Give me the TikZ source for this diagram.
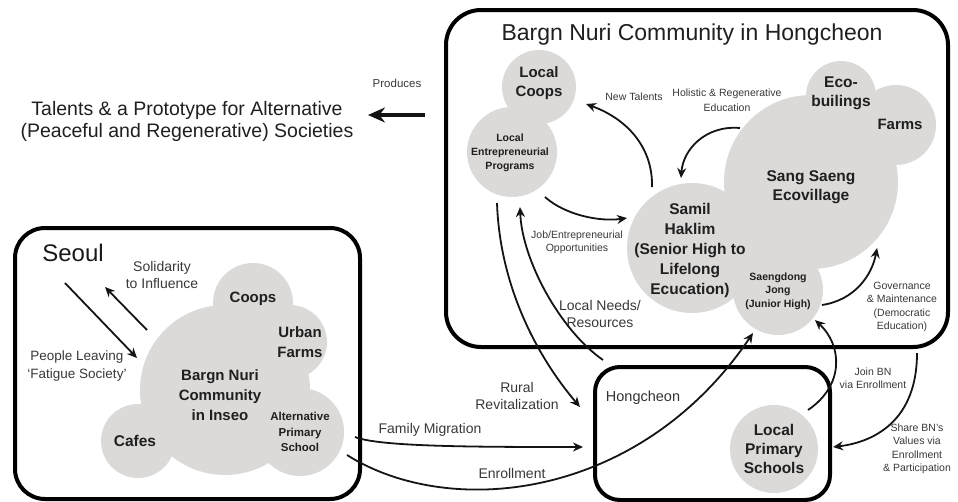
\documentclass[tikz,border=0pt]{standalone}
\usepackage{fontspec}
\setmainfont{Liberation Sans}
\usetikzlibrary{arrows.meta}
\definecolor{bubble}{RGB}{220,218,216}
\newcommand\fsz[2]{\fontsize{#1}{#2}\selectfont}
\tikzset{
  bub/.style={circle, fill=bubble, inner sep=0pt, minimum size=#1},
  framebox/.style={draw=black, line width=4pt, rounded corners=#1, inner sep=0pt, anchor=north west},
  ctxt/.style 2 args={align=center, text=black!88, inner sep=0pt, font=\bfseries\fsz{#1}{#2}},
  atxt/.style 2 args={align=center, text=black!78, inner sep=0pt, font=\fsz{#1}{#2}},
  conn/.style={draw=black!92, line width=1.8pt, -{Stealth[length=10pt,width=9pt]}},
}
\begin{document}
\begin{tikzpicture}[x=1pt,y=-1pt]
\useasboundingbox (0,0) rectangle (958,501);

% ---------- frames ----------
\node[framebox=35pt, minimum width=502pt, minimum height=337pt] (bigbox) at (444,8) {};
\node[framebox=30pt, minimum width=345pt, minimum height=271pt] (seoulbox) at (13,226) {};
\node[framebox=25pt, minimum width=235pt, minimum height=133pt] (hcbox) at (593,365) {};

% ---------- bubbles: Hongcheon community ----------
\node[bub=74pt]  (lcoops) at (539,87) {};
\node[bub=90pt]  (lep)    at (512,152) {};
\node[bub=174pt] (sang)   at (811,182) {};
\node[bub=70pt]  (eco)    at (841,96) {};
\node[bub=80pt]  (farms)  at (896,125) {};
\node[bub=130pt] (samil)  at (692,248) {};
\node[bub=90pt]  (saeng)  at (778,290) {};
\node[bub=88pt]  (lps)    at (774,449) {};

% ---------- bubbles: Seoul ----------
\node[bub=170pt] (inseo) at (225,390) {};
\node[bub=80pt]  (coops) at (253,303) {};
\node[bub=74pt]  (urban) at (290,342) {};
\node[bub=88pt]  (alt)   at (300,432) {};
\node[bub=74pt]  (cafes) at (138,441) {};

% ---------- bubble texts ----------
\node[ctxt={15}{19}] (lcoops-t) at (539,83) {Local\\Coops};
\node[ctxt={10.5}{14}] (lep-t) at (510,153) {Local\\Entrepreneurial\\Programs};
\node[ctxt={15.5}{19}] (sang-t) at (811,187) {Sang Saeng\\Ecovillage};
\node[ctxt={15.5}{19}] (eco-t) at (841,93) {Eco-\\builings};
\node[ctxt={15}{19}] (farms-t) at (900,124) {Farms};
\node[ctxt={15.5}{20}] (samil-t) at (690,250) {Samil\\Haklim\\(Senior High to\\Lifelong\\Ecucation)};
\node[ctxt={10.5}{13.5}] (saeng-t) at (778,291) {Saengdong\\Jong\\(Junior High)};
\node[ctxt={15.5}{19}] (lps-t) at (774,449) {Local\\Primary\\Schools};

\node[ctxt={15}{20}] (inseo-t) at (220,395) {Bargn Nuri\\Community\\in Inseo};
\node[ctxt={15}{19}] (coops-t) at (253,299) {Coops};
\node[ctxt={15}{20}] (urban-t) at (300,342) {Urban\\Farms};
\node[ctxt={11.5}{15.5}] (alt-t) at (300,432) {Alternative\\Primary\\School};
\node[ctxt={15.5}{19}] (cafes-t) at (135,441) {Cafes};

% ---------- titles ----------
\node[inner sep=0pt, font=\fsz{23}{27}, text=black!88] (title) at (692,35) {Bargn Nuri Community in Hongcheon};
\node[inner sep=0pt, font=\fsz{24}{28}, text=black!90] (seoul) at (73,253) {Seoul};
\node[inner sep=0pt, font=\fsz{14.5}{17}, text=black!80] (hongcheon) at (643,398) {Hongcheon};
\node[align=center, inner sep=0pt, font=\fsz{19.5}{22}, text=black!88] (talents) at (187,121)
  {Talents \& a Prototype for Alternative\\(Peaceful and Regenerative) Societies};

% ---------- annotation labels ----------
\node[atxt={11.5}{14}] (produces-l) at (397,83) {Produces};
\node[atxt={10.5}{13}] (newtal-l) at (634,97) {New Talents};
\node[atxt={10.5}{15}] (holist-l) at (727,100) {Holistic \& Regenerative\\Education};
\node[atxt={10.5}{13}] (job-l) at (577,242) {Job/Entrepreneurial\\Opportunities};
\node[atxt={14}{17.5}] (needs-l) at (600,314) {Local Needs/\\Resources};
\node[atxt={14}{17}] (rural-l) at (517,396) {Rural\\Revitalization};
\node[atxt={14}{17}] (family-l) at (430,430) {Family Migration};
\node[atxt={14}{17}] (enroll-l) at (512,473) {Enrollment};
\node[atxt={10.5}{13.5}] (gov-l) at (902,307) {Governance\\\& Maintenance\\(Democratic\\Education)};
\node[atxt={10.5}{13}] (join-l) at (873,378) {Join BN\\via Enrollment};
\node[atxt={10.5}{13.5}] (share-l) at (917,449) {Share BN's\\Values via\\Enrollment\\\& Participation};
\node[atxt={14}{16.5}] (solid-l) at (162,275) {Solidarity\\to Influence};
\node[atxt={13.5}{18}] (people-l) at (77,366) {People Leaving\\`Fatigue Society'};

% ---------- connector end points ----------
\coordinate (nt-s) at (652,187);   \coordinate (nt-e) at (586,104);
\coordinate (ho-s) at (740,128);   \coordinate (ho-e) at (681,178);
\coordinate (jo-s) at (545,197);   \coordinate (jo-e) at (627,218);
\coordinate (ru-s) at (497,203);   \coordinate (ru-e) at (580,407);
\coordinate (ne-s) at (603,360);   \coordinate (ne-e) at (520,207);
\coordinate (fa-s) at (355,437);   \coordinate (fa-e) at (583,447);
\coordinate (en-s) at (347,455);   \coordinate (en-e) at (753,333);
\coordinate (jn-s) at (808,410);   \coordinate (jn-e) at (815,320);
\coordinate (sh-s) at (917,353);   \coordinate (sh-e) at (833,447);
\coordinate (go-s) at (822,305);   \coordinate (go-e) at (877,248);
\coordinate (pl-s) at (65,283);    \coordinate (pl-e) at (137,358);
\coordinate (so-s) at (147,330);   \coordinate (so-e) at (105,287);
\coordinate (pr-s) at (425,115);   \coordinate (pr-e) at (368,115);

% ---------- connectors ----------
\draw[conn] (nt-s) .. controls (653,150) and (630,120) .. (nt-e);
\draw[conn] (ho-s) .. controls (705,125) and (683,150) .. (ho-e);
\draw[conn] (jo-s) .. controls (565,215) and (600,222) .. (jo-e);
\draw[conn] (ru-s) .. controls (500,290) and (540,360) .. (ru-e);
\draw[conn] (ne-s) .. controls (560,330) and (522,260) .. (ne-e);
\draw[conn] (fa-s) .. controls (380,447) and (480,447) .. (fa-e);
\draw[conn] (en-s) .. controls (450,520) and (640,500) .. (en-e);
\draw[conn] (jn-s) .. controls (845,385) and (842,345) .. (jn-e);
\draw[conn] (sh-s) .. controls (917,420) and (875,442) .. (sh-e);
\draw[conn] (go-s) .. controls (855,300) and (872,275) .. (go-e);
\draw[conn] (pl-s) -- (pl-e);
\draw[conn] (so-s) -- (so-e);
\draw[draw=black!92, line width=4pt, -{Stealth[length=17pt,width=15pt]}] (pr-s) -- (pr-e);
\end{tikzpicture}
\end{document}
